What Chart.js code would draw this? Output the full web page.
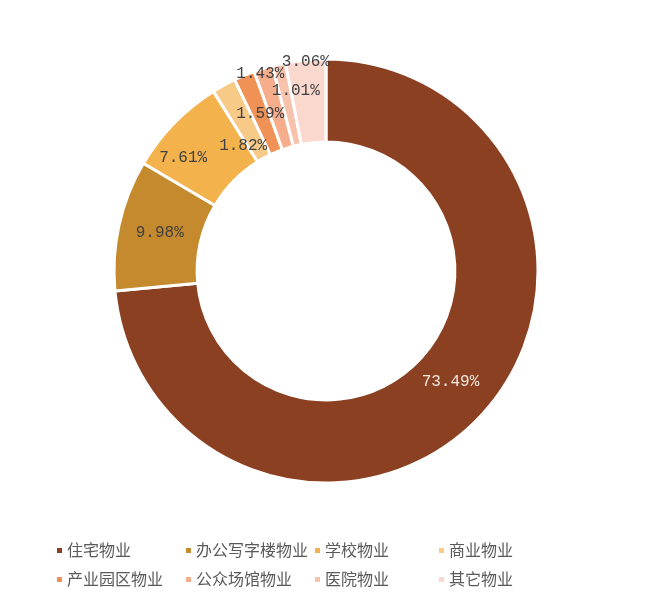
<!DOCTYPE html>
<html>
<head>
<meta charset="utf-8">
<script src="https://cdn.jsdelivr.net/npm/chart.js@4.4.0/dist/chart.umd.min.js"></script>
<style>
  html, body { margin: 0; padding: 0; background: #fff; }
  #wrap { position: relative; width: 650px; height: 606px; }
  #myChart { position: absolute; left: 0; top: 0; }
  #legend {
    position: absolute; left: 57px; top: 538px;
    display: grid; grid-template-columns: 129px 129px 124px auto;
    row-gap: 7px;
    font-family: "Noto Sans CJK SC", sans-serif; font-size: 16px; color: #595959;
  }
  #legend div { white-space: nowrap; line-height: 22px; }
  #legend span { display: inline-block; width: 5px; height: 5px; margin-right: 5px; vertical-align: middle; position: relative; top: -1px; }
</style>
</head>
<body>
<div id="wrap">
  <canvas id="myChart" width="650" height="606"></canvas>
  <div id="legend"></div>
</div>
<script>
var categories = ['住宅物业', '办公写字楼物业', '学校物业', '商业物业', '产业园区物业', '公众场馆物业', '医院物业', '其它物业'];
var shares = [73.49, 9.98, 7.61, 1.82, 1.59, 1.43, 1.01, 3.06];
var pctLabels = ['73.49%', '9.98%', '7.61%', '1.82%', '1.59%', '1.43%', '1.01%', '3.06%'];
var sliceColors = ['#8b4021', '#c68a2e', '#f3b24b', '#f7ca88', '#f09255', '#f5ad8c', '#f8c3ad', '#fad8ce'];

// where each percent label sits: fraction of outer radius, and angle nudge in degrees
var labelRadius = [0.785, 0.805, 0.86, 0.71, 0.805, 0.98, 0.86, 0.99];
var labelNudge = [-0.7, 0.5, -5.8, -4.6, 0, -1.2, 3.3, 0];

var percentLabels = {
    id: 'percentLabels',
    afterDatasetsDraw(chart) {
        var ctx = chart.ctx;
        var meta = chart.getDatasetMeta(0);
        ctx.save();
        ctx.font = '16px "Liberation Mono", monospace';
        ctx.textAlign = 'center';
        ctx.textBaseline = 'middle';
        meta.data.forEach(function (arc, i) {
            var p = arc.getProps(['x', 'y', 'startAngle', 'endAngle', 'outerRadius']);
            var a = (p.startAngle + p.endAngle) / 2 + labelNudge[i] * Math.PI / 180;
            var r = p.outerRadius * labelRadius[i];
            ctx.fillStyle = i === 0 ? '#f3e8de' : '#404040';
            ctx.fillText(pctLabels[i], p.x + Math.cos(a) * r, p.y + Math.sin(a) * r);
        });
        ctx.restore();
    }
};

new Chart(document.getElementById('myChart'), {
    type: 'doughnut',
    data: {
        labels: categories,
        datasets: [{
            data: shares,
            backgroundColor: sliceColors,
            borderColor: '#ffffff',
            borderWidth: 3,
            hoverOffset: 0
        }]
    },
    options: {
        responsive: false,
        animation: false,
        radius: 212,
        cutout: 128,
        layout: { padding: { left: 114, right: 112, top: 59, bottom: 123 } },
        plugins: {
            legend: { display: false },
            tooltip: { enabled: false }
        }
    },
    plugins: [percentLabels]
});

var legend = document.getElementById('legend');
for (let i = 0; i < categories.length; i++) {
    var item = document.createElement('div');
    item.innerHTML = '<span style="background:' + sliceColors[i] + '"></span>' + categories[i];
    legend.appendChild(item);
}
</script>
</body>
</html>
